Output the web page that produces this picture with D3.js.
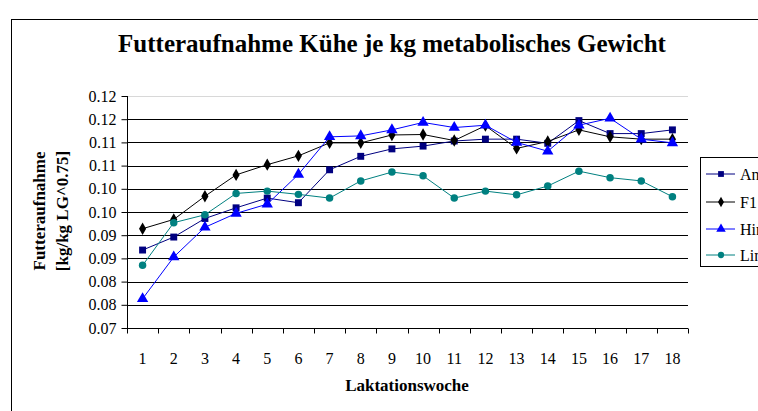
<!DOCTYPE html>
<html>
<head>
<meta charset="utf-8">
<script src="https://cdn.jsdelivr.net/npm/d3@7"></script>
<style>
  body { margin: 0; background: #fff; overflow: hidden; }
  svg { display: block; font-family: "Liberation Serif", "Times New Roman", serif; }
</style>
</head>
<body>
<svg id="chart" width="758" height="411"></svg>
<script>
const weeks = [1, 2, 3, 4, 5, 6, 7, 8, 9, 10, 11, 12, 13, 14, 15, 16, 17, 18];
const seriesNames = ['Angler', 'F1', 'Hinterwälder', 'Limpurger'];
const angler = [0.0868, 0.0896, 0.0936, 0.0959, 0.0980, 0.0970, 0.1041, 0.1070, 0.1086, 0.1092,
  0.1103, 0.1107, 0.1107, 0.1098, 0.1147, 0.1119, 0.1119, 0.1127];
const f1 = [0.0914, 0.0934, 0.0984, 0.1030, 0.1052, 0.1071, 0.1099, 0.1099, 0.1116, 0.1117,
  0.1104, 0.1136, 0.1087, 0.1102, 0.1127, 0.1112, 0.1107, 0.1107];
const hinterwaelder = [0.0763, 0.0853, 0.0917, 0.0947, 0.0967, 0.1031, 0.1112, 0.1114, 0.1127, 0.1143,
  0.1132, 0.1137, 0.1100, 0.1081, 0.1137, 0.1152, 0.1107, 0.1099];
const limpurger = [0.0835, 0.0927, 0.0944, 0.0990, 0.0995, 0.0988, 0.0980, 0.1017, 0.1036, 0.1028,
  0.0980, 0.0995, 0.0987, 0.1006, 0.1038, 0.1024, 0.1017, 0.0983];
const yTicks = [0.07, 0.075, 0.08, 0.085, 0.09, 0.095, 0.10, 0.105, 0.11, 0.115, 0.12];
const yTickLabels = ['0.07', '0.08', '0.08', '0.09', '0.09', '0.10', '0.10', '0.11', '0.11', '0.12', '0.12'];

const colors = ['#000080', '#000000', '#0000ff', '#008080'];
const symbols = [d3.symbolSquare, d3.symbolDiamond, d3.symbolTriangle, d3.symbolCircle];
const symSizes = [48, 44, 56, 44];

const margin = { top: 96, left: 127, right: 70, bottom: 83 };
const width = 758 - margin.left - margin.right;
const height = 411 - margin.top - margin.bottom;

const svg = d3.select('#chart');

// outer chart frame
svg.append('rect')
  .attr('x', 11.5).attr('y', 19.5)
  .attr('width', 800).attr('height', 450)
  .attr('fill', 'none').attr('stroke', '#000');

svg.append('text')
  .attr('x', 392).attr('y', 52)
  .attr('text-anchor', 'middle')
  .attr('font-weight', 'bold').attr('font-size', 25)
  .text('Futteraufnahme Kühe je kg metabolisches Gewicht');

const g = svg.append('g').attr('transform', `translate(${margin.left},${margin.top})`);

const x = d3.scaleBand().domain(weeks).range([0, width]);
const y = d3.scaleLinear().domain([0.07, 0.12]).range([height, 0]);

// gridlines
g.selectAll('line.grid').data(yTicks.slice(1))
  .enter().append('line')
  .attr('class', 'grid')
  .attr('x1', 0).attr('x2', width)
  .attr('y1', d => Math.round(y(d)) + 0.5).attr('y2', d => Math.round(y(d)) + 0.5)
  .attr('stroke', (d, i) => i === yTicks.length - 2 ? '#d8d8d8' : '#000')
  .attr('stroke-width', 1);

// y axis
const yAxis = g.append('g')
  .attr('transform', 'translate(0.5,0)')
  .call(d3.axisLeft(y).tickValues(yTicks).tickSize(6).tickPadding(5)
    .tickFormat((d, i) => yTickLabels[i]));
yAxis.selectAll('text').attr('font-size', 16).attr('font-family', 'Liberation Serif').attr('fill', '#000');
yAxis.select('.domain').attr('d', `M0,${y(0.12)}V${height}`);

// x axis with ticks at category boundaries
const xAxis = g.append('g').attr('transform', `translate(0,${Math.round(height) + 0.5})`);
xAxis.append('line').attr('x1', 0).attr('x2', width).attr('stroke', '#000');
xAxis.selectAll('line.tick').data(weeks.concat([19]))
  .enter().append('line')
  .attr('x1', d => Math.round(d === 19 ? width : x(d)) + 0.5)
  .attr('x2', d => Math.round(d === 19 ? width : x(d)) + 0.5)
  .attr('y1', 0).attr('y2', 5).attr('stroke', '#000');
xAxis.selectAll('text').data(weeks)
  .enter().append('text')
  .attr('x', d => x(d) + x.bandwidth() / 2)
  .attr('y', 35)
  .attr('text-anchor', 'middle')
  .attr('font-size', 16)
  .text(d => d);

// axis titles
svg.append('text')
  .attr('x', 407).attr('y', 391)
  .attr('text-anchor', 'middle')
  .attr('font-weight', 'bold').attr('font-size', 17)
  .text('Laktationswoche');

const yTitle = svg.append('text')
  .attr('transform', 'translate(0,211) rotate(-90)')
  .attr('text-anchor', 'middle')
  .attr('font-weight', 'bold').attr('font-size', 17);
yTitle.append('tspan').attr('x', 0).attr('y', 45).text('Futteraufnahme');
yTitle.append('tspan').attr('x', 0).attr('y', 68).text('[kg/kg LG^0.75]');

// series
const allSeries = [angler, f1, hinterwaelder, limpurger];
const line = d3.line()
  .x((d, i) => x(weeks[i]) + x.bandwidth() / 2)
  .y(d => y(d));

allSeries.forEach((vals, s) => {
  g.append('path')
    .datum(vals)
    .attr('fill', 'none')
    .attr('stroke', colors[s])
    .attr('stroke-width', 1)
    .attr('d', line);
  g.selectAll(`path.m${s}`).data(vals)
    .enter().append('path')
    .attr('class', `m${s}`)
    .attr('transform', (d, i) => `translate(${x(weeks[i]) + x.bandwidth() / 2},${y(d)})`)
    .attr('d', d3.symbol().type(symbols[s]).size(symSizes[s]))
    .attr('fill', colors[s]);
});

// legend (cut off at the right edge, as in the source image)
const legend = svg.append('g').attr('transform', 'translate(700,157)');
legend.append('rect')
  .attr('x', 0.5).attr('y', 0.5).attr('width', 100).attr('height', 109)
  .attr('fill', '#fff').attr('stroke', '#000');
const entry = legend.selectAll('g.entry').data(seriesNames)
  .enter().append('g')
  .attr('class', 'entry')
  .attr('transform', (d, i) => `translate(0,${[17, 45, 72, 98][i]})`);
entry.append('line')
  .attr('x1', 6).attr('x2', 35)
  .attr('stroke', (d, i) => colors[i]);
entry.append('path')
  .attr('transform', 'translate(21,0)')
  .attr('d', (d, i) => d3.symbol().type(symbols[i]).size(symSizes[i] * 0.7)())
  .attr('fill', (d, i) => colors[i]);
entry.append('text')
  .attr('x', 40).attr('y', 6)
  .attr('font-size', 16)
  .text(d => d);
</script>
</body>
</html>
